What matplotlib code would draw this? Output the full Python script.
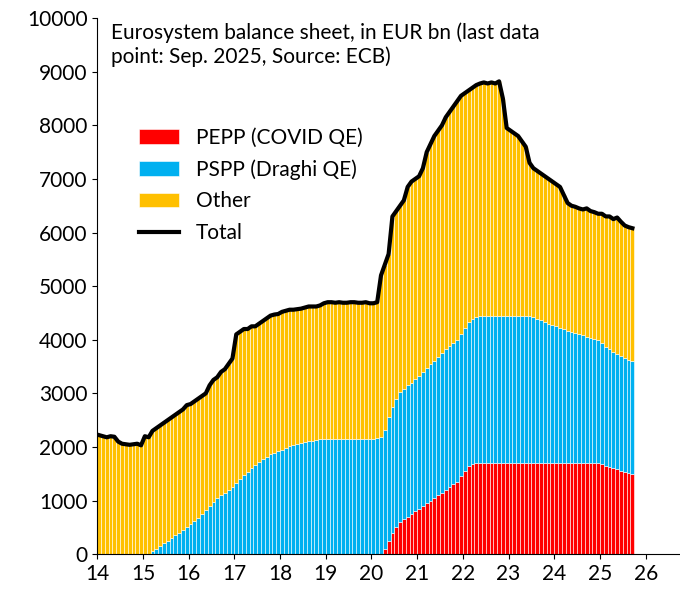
import matplotlib
matplotlib.use("Agg")
import matplotlib.pyplot as plt
import numpy as np

total = [2220,2200,2180,2200,2190,2100,2060,2050,2040,2050,2060,2030,
 2200,2180,2300,2350,2400,2450,2500,2550,2600,2650,2700,2780,
 2800,2850,2900,2950,3000,3150,3250,3300,3400,3450,3550,3650,
 4100,4150,4200,4200,4250,4250,4300,4350,4400,4450,4470,4480,
 4520,4540,4560,4560,4570,4580,4600,4620,4620,4620,4640,4680,
 4700,4700,4690,4700,4690,4690,4700,4700,4690,4690,4700,4680,
 4680,4700,5200,5400,5600,6300,6400,6500,6600,6850,6950,7000,
 7050,7200,7500,7650,7800,7900,8000,8150,8250,8350,8450,8550,
 8600,8650,8700,8750,8780,8800,8780,8800,8780,8820,8500,7950,
 7900,7850,7800,7700,7600,7300,7200,7150,7100,7050,7000,6950,
 6900,6850,6700,6550,6500,6480,6450,6430,6450,6400,6380,6350,
 6350,6300,6300,6250,6280,6200,6130,6100,6080]
pepp = [0]*72 + [0,0,0,100,250,400,500,600,650,700,750,800,
 850,900,950,1000,1050,1100,1150,1200,1250,1300,1350,1450,
 1550,1650,1690] + [1700]*33 + [1680,1650,1620,1600,1580,1560,1540,1520,1500]
pspp = [0]*12 + [0,0,50,100,150,200,250,300,350,400,450,500,
 560,620,680,750,830,900,970,1040,1100,1150,1200,1250,
 1320,1400,1470,1540,1600,1660,1720,1770,1820,1860,1890,1920,
 1950,1980,2010,2040,2060,2080,2100,2110,2120,2130,2140,2150] + [2150]*12 + [
 2150,2160,2180,2220,2300,2350,2400,2430,2440,2450,2450,2460,
 2480,2500,2520,2540,2560,2580,2600,2620,2630,2640,2650,2650,
 2660,2680,2700,2720,2740,2750,2750,2750,2750,2750,2750,2750,
 2750,2750,2750,2750,2750,2750,2720,2690,2660,2630,2600,2580,
 2550,2520,2500,2470,2450,2420,2400,2380,2350,2330,2310,2300,
 2250,2220,2200,2180,2160,2140,2120,2110,2100]
xticks = [14,15,16,17,18,19,20,21,22,23,24,25,26]

total = np.array(total, float); pepp = np.array(pepp, float); pspp = np.array(pspp, float)
other = total - pepp - pspp
x = 14 + np.arange(len(total)) / 12

plt.rcParams['font.family'] = ['Lato', 'DejaVu Sans']
fig = plt.figure(figsize=(6.8, 6.03), dpi=100)
ax = fig.add_axes([0.143, 0.081, 0.857, 0.889])
w = 1/12
kw = dict(width=w, align='edge', edgecolor='white', linewidth=0.4)
b1 = ax.bar(x, pepp, color='#ff0000', label='PEPP (COVID QE)', **kw)
b2 = ax.bar(x, pspp, bottom=pepp, color='#00b0f0', label='PSPP (Draghi QE)', **kw)
b3 = ax.bar(x, other, bottom=pepp+pspp, color='#ffc000', label='Other', **kw)
l1, = ax.plot(x + w/2, total, color='black', lw=3, label='Total')
ax.set_xlim(14, 26.75)
ax.set_ylim(0, 10000)
ax.set_xticks(xticks)
ax.set_xticklabels([str(t) for t in xticks])
ax.set_yticks(range(0, 10001, 1000))
ax.tick_params(labelsize=15, direction='out')
for s in ['top', 'right']:
    ax.spines[s].set_visible(False)
ax.text(14.3, 9920, 'Eurosystem balance sheet, in EUR bn (last data\npoint: Sep. 2025, Source: ECB)',
        fontsize=15, va='top', linespacing=1.2)
ax.legend(handles=[b1, b2, b3, l1], loc='upper left', bbox_to_anchor=(0.04, 0.83),
          frameon=False, fontsize=15, handlelength=1.9, labelspacing=0.55)
fig.savefig('out.png')
